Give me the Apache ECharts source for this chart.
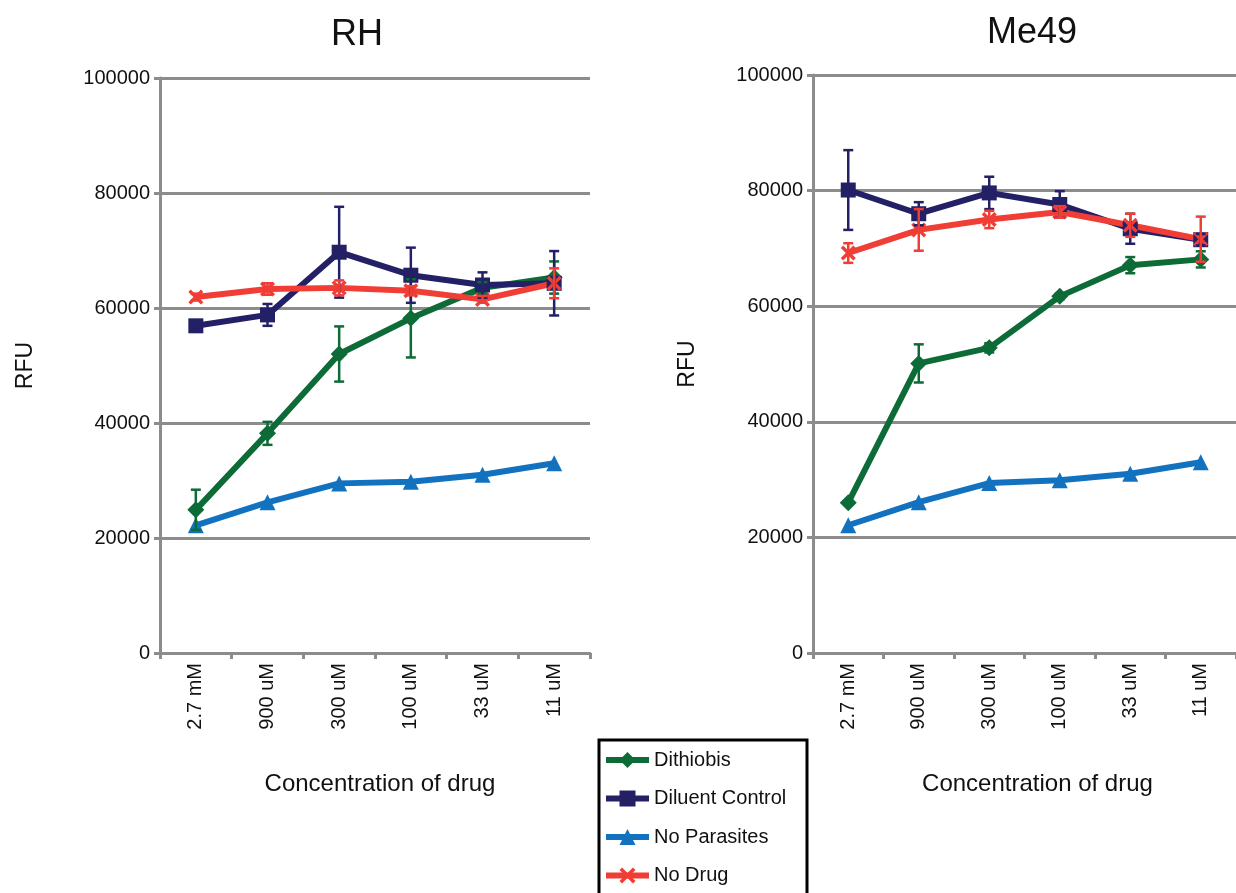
<!DOCTYPE html>
<html>
<head>
<meta charset="utf-8">
<script src="https://cdn.jsdelivr.net/npm/echarts@6/dist/echarts.min.js"></script>
<style>
  html, body { margin: 0; padding: 0; background: #fff; }
  #chart { width: 1236px; height: 893px; }
</style>
</head>
<body>
<div id="chart"></div>
<script>
const categories = ['2.7 mM', '900 uM', '300 uM', '100 uM', '33 uM', '11 uM'];

// RH
const rhDithiobis = [24900, 38200, 52000, 58200, 63500, 65300];
const rhDithiobisErr = [3500, 2000, 4800, 6800, 1000, 2800];
const rhDiluent = [56900, 58800, 69700, 65700, 64000, 64300];
const rhDiluentErr = [800, 1900, 7900, 4800, 2200, 5600];
const rhNoParasites = [22200, 26200, 29500, 29800, 31000, 33000];
const rhNoDrug = [61900, 63300, 63500, 63000, 61500, 64300];
const rhNoDrugErr = [600, 1000, 1300, 800, 600, 2600];

// Me49
const meDithiobis = [26000, 50100, 52800, 61700, 67100, 68100];
const meDithiobisErr = [300, 3300, 800, 500, 1400, 1400];
const meDiluent = [80100, 76000, 79600, 77600, 73400, 71500];
const meDiluentErr = [6900, 2000, 2800, 2300, 2600, 1000];
const meNoParasites = [22100, 26100, 29400, 29900, 31000, 33000];
const meNoDrug = [69200, 73200, 75000, 76300, 74000, 71600];
const meNoDrugErr = [1700, 3600, 1500, 1000, 2000, 3900];

const FONT = '"Liberation Sans", Arial, sans-serif';
const GRAY = '#8c8c8c';
const colors = {
  'Dithiobis': '#0d6b37',
  'Diluent Control': '#232066',
  'No Parasites': '#1272bf',
  'No Drug': '#f03d35'
};
const crossPath = 'path://M0,1.6L1.6,0L5,3.4L8.4,0L10,1.6L6.6,5L10,8.4L8.4,10L5,6.6L1.6,10L0,8.4L3.4,5Z';
const symbols = {
  'Dithiobis': ['diamond', 17],
  'Diluent Control': ['rect', 15],
  'No Parasites': ['triangle', 16],
  'No Drug': [crossPath, 15]
};

function lineSeries(name, data, gi) {
  return {
    name: name, type: 'line', data: data,
    xAxisIndex: gi, yAxisIndex: gi,
    symbol: symbols[name][0], symbolSize: symbols[name][1],
    lineStyle: { width: 6, color: colors[name] },
    itemStyle: { color: colors[name] },
    z: 2
  };
}

function renderErr(params, api) {
  const x = api.value(0), y = api.value(1), e = api.value(2);
  const hi = api.coord([x, y + e]);
  const lo = api.coord([x, y - e]);
  const style = { stroke: api.visual('color'), lineWidth: 2.5 };
  return {
    type: 'group',
    children: [
      { type: 'line', shape: { x1: hi[0], y1: hi[1], x2: lo[0], y2: lo[1] }, style: style },
      { type: 'line', shape: { x1: hi[0] - 5, y1: hi[1], x2: hi[0] + 5, y2: hi[1] }, style: style },
      { type: 'line', shape: { x1: lo[0] - 5, y1: lo[1], x2: lo[0] + 5, y2: lo[1] }, style: style }
    ]
  };
}

function errSeries(name, vals, errs, gi) {
  return {
    name: name + ' err', type: 'custom',
    xAxisIndex: gi, yAxisIndex: gi,
    renderItem: renderErr,
    itemStyle: { color: colors[name] },
    encode: { x: 0, y: 1 },
    data: vals.map((v, i) => [i, v, errs[i]]),
    z: 3, silent: true
  };
}

function xAxis(gi, shift) {
  return {
    type: 'category', gridIndex: gi, data: categories,
    boundaryGap: true,
    axisLine: { lineStyle: { color: GRAY, width: 3 } },
    axisTick: { show: true, length: 6, lineStyle: { color: GRAY, width: 3 } },
    axisLabel: { rotate: 90, color: '#111', fontSize: 20, fontFamily: FONT, margin: 10 },
    name: 'Concentration of drug', nameLocation: 'middle', nameGap: 119,
    nameTextStyle: { color: '#111', fontSize: 24, fontFamily: FONT, padding: [0, 0, 0, shift] }
  };
}

function yAxis(gi, gap) {
  return {
    type: 'value', gridIndex: gi, min: 0, max: 100000, interval: 20000,
    axisLine: { show: true, lineStyle: { color: GRAY, width: 3 } },
    axisTick: { show: true, length: 6, lineStyle: { color: GRAY, width: 3 } },
    splitLine: { lineStyle: { color: GRAY, width: 3 } },
    axisLabel: {
      color: '#111', fontSize: 20, fontFamily: FONT, margin: 10,
      formatter: v => String(v)
    },
    name: 'RFU', nameLocation: 'middle', nameGap: gap, nameRotate: 90,
    nameTextStyle: { color: '#111', fontSize: 23, fontFamily: FONT }
  };
}

const chart = echarts.init(document.getElementById('chart'));
chart.setOption({
  animation: false,
  title: [
    { text: 'RH', left: 352, top: 12, textAlign: 'center',
      textStyle: { fontSize: 36, fontWeight: 'normal', color: '#111', fontFamily: FONT } },
    { text: 'Me49', left: 1027, top: 10, textAlign: 'center',
      textStyle: { fontSize: 36, fontWeight: 'normal', color: '#111', fontFamily: FONT } }
  ],
  grid: [
    { left: 160, right: 646, top: 78, bottom: 240 },
    { left: 813, right: -7, top: 75, bottom: 240 }
  ],
  xAxis: [xAxis(0, 10), xAxis(1, 26)],
  yAxis: [yAxis(0, 123), yAxis(1, 114)],
  legend: {
    data: ['Dithiobis', 'Diluent Control', 'No Parasites', 'No Drug'],
    orient: 'vertical', left: 603, top: 750, padding: 0,
    height: 150,
    itemWidth: 43, itemHeight: 20, itemGap: 18.5,
    lineStyle: { width: 6 },
    textStyle: { fontSize: 20, fontFamily: FONT, color: '#111' }
  },
  graphic: [{
    type: 'rect', shape: { x: 599, y: 740, width: 208, height: 170 },
    style: { fill: 'none', stroke: '#000', lineWidth: 3 }, z: 10, silent: true
  }],
  series: [
    lineSeries('Dithiobis', rhDithiobis, 0),
    lineSeries('Diluent Control', rhDiluent, 0),
    lineSeries('No Parasites', rhNoParasites, 0),
    lineSeries('No Drug', rhNoDrug, 0),
    errSeries('Dithiobis', rhDithiobis, rhDithiobisErr, 0),
    errSeries('Diluent Control', rhDiluent, rhDiluentErr, 0),
    errSeries('No Drug', rhNoDrug, rhNoDrugErr, 0),
    lineSeries('Dithiobis', meDithiobis, 1),
    lineSeries('Diluent Control', meDiluent, 1),
    lineSeries('No Parasites', meNoParasites, 1),
    lineSeries('No Drug', meNoDrug, 1),
    errSeries('Dithiobis', meDithiobis, meDithiobisErr, 1),
    errSeries('Diluent Control', meDiluent, meDiluentErr, 1),
    errSeries('No Drug', meNoDrug, meNoDrugErr, 1)
  ]
});
</script>
</body>
</html>
